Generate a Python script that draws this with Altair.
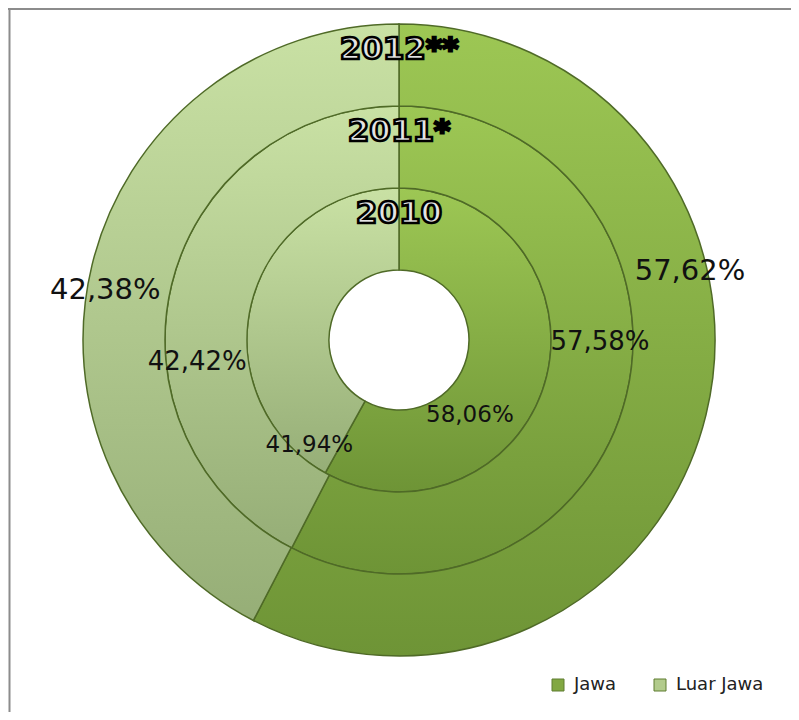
import math
import altair as alt
import pandas as pd

# ---- data ----
years = ["2010", "2011*", "2012**"]
regions = ["Jawa", "Luar Jawa"]
jawa = [58.06, 57.58, 57.62]
luar_jawa = [41.94, 42.42, 42.38]

rows = []
for i, y in enumerate(years):
    for reg, vals in zip(regions, [jawa, luar_jawa]):
        v = vals[i]
        rows.append({"year": y, "region": reg, "value": v,
                     "label": f"{v:.2f}".replace(".", ",") + "%"})
df = pd.DataFrame(rows)

# ---- layout / style ----
W, H = 782, 664
CX, CY = W / 2, H / 2
ring = {"2010": (70, 152), "2011*": (152, 234), "2012**": (234, 316)}
label_fs = {"2010": 23, "2011*": 26, "2012**": 29}
# label placement nudges: (radius in px, angular shift from slice middle in degrees)
label_place = {
    ("2012**", "Jawa"): (299, -27), ("2012**", "Luar Jawa"): (298, -4),
    ("2011*", "Jawa"): (201, -13), ("2011*", "Luar Jawa"): (203, -20),
    ("2010", "Jawa"): (103, 32), ("2010", "Luar Jawa"): (138, -64),
}

legend_colors = ["#82A842", "#B2CB8C"]
grad = {
    "Jawa": ("#9DC754", "#6E9436"),
    "Luar Jawa": ("#C9E1A4", "#96AE77"),
}
theta_scale = alt.Scale(domain=[0, 100])


def slices(y):
    return (alt.Chart(df)
            .transform_filter(alt.datum.year == y)
            .transform_window(cum="sum(value)", sort=[alt.SortField("region")],
                              frame=[None, 0])
            .transform_calculate(start="datum.cum - datum.value",
                                 mid="datum.cum - datum.value / 2"))


layers = []

# legend carrier (invisible arcs) so the legend uses the series colours
legend_layer = alt.Chart(df).transform_filter(alt.datum.year == "2012**").mark_arc(
    radius=1, radius2=0, opacity=0).encode(
    theta=alt.Theta("value:Q", stack=True, scale=theta_scale),
    color=alt.Color("region:N", scale=alt.Scale(domain=regions, range=legend_colors),
                    legend=alt.Legend(orient="none", legendX=541, legendY=668,
                                      direction="horizontal", title=None,
                                      symbolType="square", symbolSize=144,
                                      symbolOpacity=1,
                                      labelFont="DejaVu Sans", labelFontSize=18,
                                      labelColor="#222222", columnPadding=34,
                                      labelOffset=7, padding=0,
                                      symbolStrokeColor="#5f7d30",
                                      symbolStrokeWidth=1)),
    order=alt.Order("region:N"),
)
layers.append(legend_layer)

for y in years:
    ri, ro = ring[y]
    for reg in regions:
        top, bottom = grad[reg]
        arc = slices(y).transform_filter(alt.datum.region == reg).mark_arc(
            radius=ro, radius2=ri, stroke="#4f6a27", strokeWidth=1.5,
            color=alt.Gradient(gradient="linear", x1=0, y1=0, x2=0, y2=1,
                               stops=[alt.GradientStop(color=top, offset=0),
                                      alt.GradientStop(color=bottom, offset=1)]),
        ).encode(
            theta=alt.Theta("start:Q", scale=theta_scale),
            theta2="cum:Q",
        )
        layers.append(arc)

for y in years:
    for reg in regions:
        r, shift = label_place[(y, reg)]
        txt = slices(y).transform_filter(alt.datum.region == reg).mark_text(
            radius=r, thetaOffset=math.radians(shift), font="DejaVu Sans",
            fontSize=label_fs[y], color="#111111",
        ).encode(
            theta=alt.Theta("mid:Q", scale=theta_scale),
            text="label:N",
        )
        layers.append(txt)

ydf = pd.DataFrame({"year": years})
for y in years:
    ri, ro = ring[y]
    t = alt.Chart(ydf).transform_filter(alt.datum.year == y).mark_text(
        font="DejaVu Sans", fontWeight="bold", fontSize=31,
        fill="#e4e4e4", stroke="#000000", strokeWidth=2.6, baseline="middle"
    ).encode(text="year:N", x=alt.value(CX), y=alt.value(CY - ro + 26))
    layers.append(t)

frame_df = pd.DataFrame({"a": [0]})
left_rule = alt.Chart(frame_df).mark_rule(color="#8c8c8c", strokeWidth=2).encode(
    x=alt.value(1.5), y=alt.value(0), y2=alt.value(704))
top_rule = alt.Chart(frame_df).mark_rule(color="#8c8c8c", strokeWidth=2).encode(
    y=alt.value(1), x=alt.value(0), x2=alt.value(783))
layers += [left_rule, top_rule]

chart = alt.layer(*layers).properties(
    width=W, height=H,
    autosize=alt.AutoSizeParams(type="none"),
    padding={"left": 0, "top": 0, "right": 1, "bottom": 40},
).configure_view(stroke=None)

chart.save("out.html", embed_options={"renderer": "svg", "actions": False})
